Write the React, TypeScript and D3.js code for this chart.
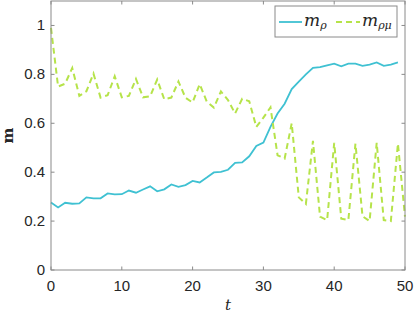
import React from 'react';
import { scaleLinear, line } from 'd3';

// values, t = 0, 1, 2, ...
const mRho = [
  0.276, 0.256, 0.275, 0.271, 0.272, 0.297, 0.293, 0.293, 0.313, 0.309,
  0.31, 0.325, 0.316, 0.329, 0.342, 0.322, 0.33, 0.35, 0.34, 0.347,
  0.364, 0.358, 0.378, 0.399, 0.401, 0.41, 0.438, 0.44, 0.465, 0.507,
  0.521, 0.585, 0.64, 0.68, 0.74, 0.77, 0.8, 0.827, 0.83, 0.837,
  0.844, 0.833, 0.844, 0.844, 0.835, 0.84, 0.849, 0.835, 0.84, 0.849,
];
const mRhoMu = [
  0.99, 0.75, 0.762, 0.826, 0.712, 0.731, 0.803, 0.705, 0.715, 0.792,
  0.706, 0.712, 0.781, 0.706, 0.71, 0.779, 0.698, 0.705, 0.771, 0.704,
  0.685, 0.76, 0.689, 0.664, 0.73, 0.695, 0.64, 0.7, 0.69, 0.585,
  0.623, 0.665, 0.469, 0.456, 0.6, 0.297, 0.27, 0.528, 0.218, 0.204,
  0.52, 0.21, 0.204, 0.517, 0.22, 0.2, 0.52, 0.204, 0.2, 0.517, 0.218,
];
const xTicks = [0, 10, 20, 30, 40, 50];
const yTicks = [0, 0.2, 0.4, 0.6, 0.8, 1];

const W = 415;
const H = 316;
const m = { left: 51, right: 10, top: 1, bottom: 46 };
const axisCol = '#8a8a8a';
const tickFont = '"Liberation Sans", Arial, sans-serif';
const mathFont = '"DejaVu Serif", "Liberation Serif", serif';

export default function App() {
  const x = scaleLinear().domain([0, 50]).range([m.left, W - m.right]);
  const y = scaleLinear().domain([0, 1.1]).range([H - m.bottom, m.top]);
  const path = line<number>()
    .x((_, i) => x(i))
    .y((d) => y(d));

  const x0 = x(0), x1 = x(50), y0 = y(0), y1 = y(1.1);

  return (
    <svg width={W} height={H} style={{ position: 'absolute', left: 0, top: 0, background: '#fff' }}>
      <rect x={0} y={0} width={W} height={H} fill="#fff" />
      <path d={path(mRho) || ''} fill="none" stroke="#3fc1d2" strokeWidth={1.8} />
      <path d={path(mRhoMu) || ''} fill="none" stroke="#b6e34a" strokeWidth={2} strokeDasharray="6,4" />

      {/* box */}
      <rect x={x0} y={y1} width={x1 - x0} height={y0 - y1} fill="none" stroke={axisCol} strokeWidth={1} />
      {xTicks.map((t) => (
        <g key={'x' + t}>
          <line x1={x(t)} x2={x(t)} y1={y0} y2={y0 - 3.5} stroke={axisCol} />
          <line x1={x(t)} x2={x(t)} y1={y1} y2={y1 + 3.5} stroke={axisCol} />
          <text x={x(t)} y={y0 + 21} textAnchor="middle" fontFamily={tickFont} fontSize={15} fill="#262626">
            {t}
          </text>
        </g>
      ))}
      {yTicks.map((t) => (
        <g key={'y' + t}>
          <line x1={x0} x2={x0 + 3.5} y1={y(t)} y2={y(t)} stroke={axisCol} />
          <line x1={x1} x2={x1 - 3.5} y1={y(t)} y2={y(t)} stroke={axisCol} />
          <text x={x0 - 6} y={y(t) + 5} textAnchor="end" fontFamily={tickFont} fontSize={15} fill="#262626">
            {t === 0 || t === 1 ? String(t) : t.toFixed(1)}
          </text>
        </g>
      ))}

      {/* axis labels */}
      <text x={(x0 + x1) / 2} y={310} textAnchor="middle" fontFamily={mathFont} fontStyle="italic" fontSize={15} fill="#262626">
        t
      </text>
      <text transform={`translate(13,${(y0 + y1) / 2}) rotate(-90)`} textAnchor="middle" fontFamily={mathFont} fontWeight="bold" fontSize={15} fill="#262626">
        m
      </text>

      {/* legend */}
      <rect x={275} y={6} width={122} height={31} fill="#fff" stroke={axisCol} />
      <line x1={279} x2={302} y1={22} y2={22} stroke="#3fc1d2" strokeWidth={1.8} />
      <text x={304} y={26} fontFamily={mathFont} fontStyle="italic" fontSize={17} fill="#262626">
        m<tspan fontSize={11} dy={3}>ρ</tspan>
      </text>
      <line x1={336} x2={360} y1={22} y2={22} stroke="#b6e34a" strokeWidth={2} strokeDasharray="6,4" />
      <text x={362} y={26} fontFamily={mathFont} fontStyle="italic" fontSize={17} fill="#262626">
        m<tspan fontSize={11} dy={3}>ρμ</tspan>
      </text>
    </svg>
  );
}
